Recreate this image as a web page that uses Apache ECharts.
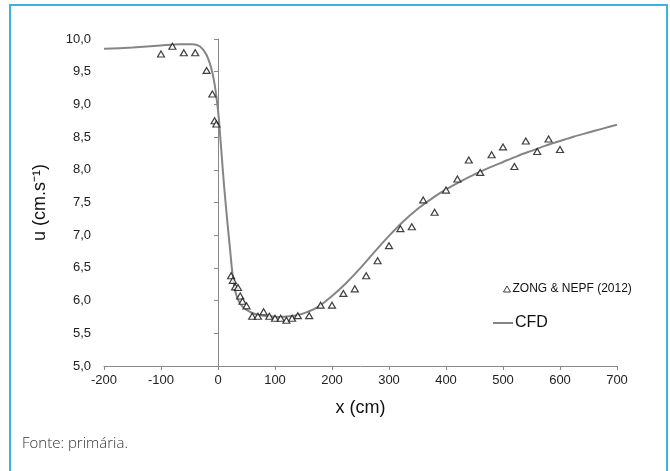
<!DOCTYPE html>
<html>
<head>
<meta charset="utf-8">
<script src="https://cdn.jsdelivr.net/npm/echarts@6/dist/echarts.min.js"></script>
<style>
html,body{margin:0;padding:0;background:#fff;}
#chart{width:670px;height:471px;}
</style>
</head>
<body>
<div id="chart"></div>
<script>
// Measured data (ZONG & NEPF 2012)
var obsX = [-100,-80,-60,-40,-20,-10,-6,-3,23,26,30,35,39,43,50,60,70,80,90,100,110,120,130,140,160,180,200,220,240,260,280,300,320,340,360,380,400,420,440,460,480,500,520,540,560,580,600];
var obsU = [9.77,9.89,9.79,9.79,9.52,9.16,8.75,8.70,6.38,6.31,6.21,6.20,6.07,5.99,5.92,5.76,5.76,5.83,5.76,5.73,5.73,5.70,5.73,5.77,5.77,5.93,5.93,6.11,6.18,6.38,6.61,6.84,7.10,7.13,7.54,7.35,7.69,7.86,8.15,7.96,8.23,8.35,8.05,8.44,8.28,8.47,8.31];
// CFD curve
var cfdX = [-200,-150,-100,-67,-45,-32,-21,-12,-6,-2,1.5,4,7,11,17,21,24,27,31,36,42,50,60,72,90,108,125,140,155,175,200,225,250,275,300,325,350,375,400,425,450,475,500,525,550,575,600,625,650,675,700];
var cfdU = [9.85,9.87,9.90,9.92,9.92,9.89,9.77,9.56,9.31,9.06,8.78,8.50,8.16,7.72,7.15,6.80,6.52,6.30,6.12,6.00,5.92,5.86,5.81,5.78,5.76,5.75,5.76,5.78,5.82,5.90,6.07,6.27,6.50,6.75,6.99,7.21,7.40,7.56,7.70,7.82,7.93,8.03,8.12,8.21,8.29,8.37,8.44,8.51,8.57,8.63,8.69];
// Axis ticks
var xTicks = {min:-200, max:700, step:100};
var yTicks = {min:5, max:10, step:0.5};

var obsData = obsX.map(function(x,i){return [x, obsU[i]];});
var cfdData = cfdX.map(function(x,i){return [x, cfdU[i]];});

var chart = echarts.init(document.getElementById('chart'), null, {renderer:'canvas'});
var axisFont = 'Liberation Sans, Arial, sans-serif';
chart.setOption({
  animation:false,
  backgroundColor:'#fff',
  grid:{left:104, right:53, top:39, bottom:105, containLabel:false},
  xAxis:{
    type:'value', min:xTicks.min, max:xTicks.max, interval:xTicks.step,
    name:'x (cm)', nameLocation:'middle', nameGap:33,
    nameTextStyle:{fontFamily:axisFont, fontSize:18, color:'#111'},
    axisLine:{lineStyle:{color:'#888', width:1}},
    axisTick:{show:true, length:4, lineStyle:{color:'#888'}},
    axisLabel:{fontFamily:axisFont, fontSize:13, color:'#222', margin:8},
    splitLine:{show:false}
  },
  yAxis:{
    type:'value', min:yTicks.min, max:yTicks.max, interval:yTicks.step,
    name:'u (cm.s\u207B\u00B9)', nameLocation:'middle', nameGap:55, nameRotate:90,
    nameTextStyle:{fontFamily:axisFont, fontSize:18, color:'#111'},
    axisLine:{show:true, lineStyle:{color:'#888', width:1}},
    axisTick:{show:true, length:4, lineStyle:{color:'#888'}},
    axisLabel:{fontFamily:axisFont, fontSize:13, color:'#222', margin:13,
      formatter:function(v){return v.toFixed(1).replace('.', ',');}},
    splitLine:{show:false}
  },
  legend:[
    {data:[{name:'ZONG & NEPF (2012)', icon:'triangle', itemStyle:{color:'#fff', borderColor:'#111', borderWidth:1}}],
     left:498, top:278, orient:'vertical',
     itemWidth:7, itemHeight:6, itemGap:0,
     textStyle:{fontFamily:axisFont, fontSize:12, color:'#111', padding:[0,0,0,-3]}},
    {data:[{name:'CFD', icon:'rect'}], left:488, top:310, orient:'vertical',
     itemWidth:20, itemHeight:2,
     textStyle:{fontFamily:axisFont, fontSize:16, color:'#111', padding:[0,0,0,-3]}}
  ],
  series:[
    {name:'CFD', type:'line', data:cfdData, symbol:'none', smooth:0.25,
     lineStyle:{color:'#858585', width:2}, itemStyle:{color:'#858585'}, z:2},
    {name:'ZONG & NEPF (2012)', type:'scatter', data:obsData, symbol:'triangle', symbolSize:[7,6],
     itemStyle:{color:'#fff', borderColor:'#111', borderWidth:1.2}, z:3}
  ],
  graphic:[
    {type:'rect', shape:{x:10, y:5, width:657, height:480}, style:{fill:'none', stroke:'#3cb2e2', lineWidth:2}, silent:true},
    {type:'text', left:22, top:436, style:{text:'Fonte: primária.', font:'300 15px "Open Sans", Lato, sans-serif', fill:'#333'}}
  ]
});
</script>
</body>
</html>
